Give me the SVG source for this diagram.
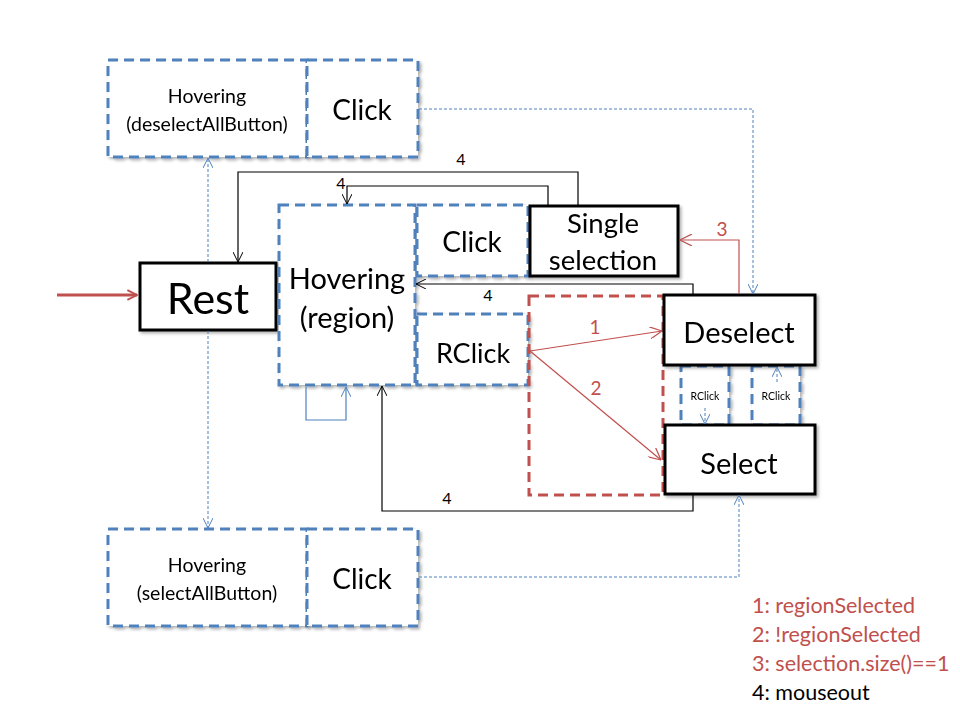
<svg xmlns="http://www.w3.org/2000/svg" width="960" height="720" viewBox="0 0 960 720">
<defs>
<style>
.t{font-family:Lato,"Open Sans","Liberation Sans",sans-serif;fill:#000;text-anchor:middle;dominant-baseline:central}
.bd{fill:#fff;stroke:#4F81BD;stroke-width:3;stroke-dasharray:10 6}
.rd{fill:none;stroke:#C0504D;stroke-width:3;stroke-dasharray:10 6}
.bk{fill:#fff;stroke:#000;stroke-width:3}
.c4{fill:none;stroke:#000;stroke-width:1.2}
.cr{fill:none;stroke:#C0504D;stroke-width:1.2}
.cb{fill:none;stroke:#4F81BD;stroke-width:1;stroke-dasharray:3 2}
.lr{font-family:Lato,"Open Sans","Liberation Sans",sans-serif;fill:#C0504D;font-size:21.5px}
.lk{font-family:Lato,"Open Sans","Liberation Sans",sans-serif;fill:#000;font-size:21.5px}
</style>
<filter id="sh" x="-10%" y="-10%" width="130%" height="130%">
<feDropShadow dx="2" dy="2" stdDeviation="1.5" flood-color="#000" flood-opacity="0.3"/>
</filter>
<marker id="ak" viewBox="0 0 10 10" refX="10" refY="5" markerWidth="10" markerHeight="10" markerUnits="userSpaceOnUse" orient="auto"><path d="M0,0 L10,5 L0,10" fill="none" stroke="#000" stroke-width="1"/></marker>
<marker id="ar" viewBox="0 0 10 10" refX="10" refY="5" markerWidth="12" markerHeight="12" markerUnits="userSpaceOnUse" orient="auto"><path d="M0,0 L10,5 L0,10" fill="none" stroke="#C0504D" stroke-width="1"/></marker>
<marker id="ab" viewBox="0 0 10 10" refX="10" refY="5" markerWidth="10" markerHeight="10" markerUnits="userSpaceOnUse" orient="auto"><path d="M0,0 L10,5 L0,10" fill="none" stroke="#4F81BD" stroke-width="1"/></marker>
<marker id="aR" viewBox="0 0 10 10" refX="9" refY="5" markerWidth="12" markerHeight="12" markerUnits="userSpaceOnUse" orient="auto"><path d="M1,1 L9,5 L1,9" fill="none" stroke="#C0504D" stroke-width="1.6"/></marker>
</defs>
<rect width="960" height="720" fill="#fff"/>

<g id="hover-deselect" filter="url(#sh)"><rect class="bd" x="108" y="60" width="199" height="97"/><text class="t" x="207" y="95" font-size="19.5">Hovering</text><text class="t" x="207" y="123" font-size="19.5">(deselectAllButton)</text></g>
<g id="click-deselect" filter="url(#sh)"><rect class="bd" x="307" y="60" width="111" height="97"/><text class="t" x="362" y="109" font-size="28">Click</text></g>
<g id="hover-select" filter="url(#sh)"><rect class="bd" x="108" y="529" width="199" height="97"/><text class="t" x="207" y="564" font-size="19.5">Hovering</text><text class="t" x="207" y="592" font-size="19.5">(selectAllButton)</text></g>
<g id="click-select" filter="url(#sh)"><rect class="bd" x="307" y="529" width="111" height="97"/><text class="t" x="362" y="578" font-size="28">Click</text></g>

<g id="rest" filter="url(#sh)"><rect class="bk" x="140" y="263" width="136" height="67"/><text class="t" x="208" y="297" font-size="43">Rest</text></g>
<g id="hover-region" filter="url(#sh)"><rect class="bd" x="279" y="205" width="136" height="180"/><text class="t" x="347" y="277" font-size="29">Hovering</text><text class="t" x="347" y="316" font-size="29">(region)</text></g>
<g id="click-region" filter="url(#sh)"><rect class="bd" x="417" y="205" width="111" height="71"/><text class="t" x="472" y="241" font-size="28">Click</text></g>
<g id="single" filter="url(#sh)"><rect class="bk" x="530" y="206" width="148" height="70"/><text class="t" x="603" y="222" font-size="27.5">Single</text><text class="t" x="603" y="259" font-size="27.5">selection</text></g>
<g id="rclick" filter="url(#sh)"><rect class="bd" x="417" y="314" width="111" height="71"/><text class="t" x="473" y="352" font-size="27">RClick</text></g>
<g id="decision"><rect class="rd" x="529" y="296" width="134" height="199"/></g>
<g id="rclick-a" filter="url(#sh)"><rect class="bd" x="681" y="366" width="48" height="59"/><text class="t" x="705" y="396" font-size="10.5">RClick</text></g>
<g id="rclick-b" filter="url(#sh)"><rect class="bd" x="752" y="366" width="48" height="59"/><text class="t" x="776" y="396" font-size="10.5">RClick</text></g>
<g id="deselect" filter="url(#sh)"><rect class="bk" x="664" y="295" width="151" height="70"/><text class="t" x="739" y="331" font-size="29">Deselect</text></g>
<g id="select" filter="url(#sh)"><rect class="bk" x="665" y="425" width="150" height="69"/><text class="t" x="739" y="462" font-size="29">Select</text></g>

<g id="connectors">
<line x1="57" y1="295" x2="137" y2="295" stroke="#C0504D" stroke-width="3" marker-end="url(#aR)"/>
<line class="cb" x1="208" y1="262" x2="208" y2="158" marker-end="url(#ab)"/>
<line class="cb" x1="208" y1="331" x2="208" y2="528" marker-end="url(#ab)"/>
<polyline class="cb" points="419,109 753,109 753,294" marker-end="url(#ab)"/>
<polyline class="cb" points="419,577 739,577 739,495" marker-end="url(#ab)"/>
<line class="cb" x1="705" y1="408" x2="705" y2="424" marker-end="url(#ab)"/>
<line class="cb" x1="777" y1="382" x2="777" y2="367" marker-end="url(#ab)"/>
<polyline class="c4" points="578,205 578,172 238,172 238,262" marker-end="url(#ak)"/>
<polyline class="c4" points="548,205 548,186 347,186 347,204" marker-end="url(#ak)"/>
<polyline class="c4" points="693,294 693,284 416,284" marker-end="url(#ak)"/>
<polyline class="c4" points="693,495 693,511 382,511 382,386" marker-end="url(#ak)"/>
<polyline points="306,387 306,420 346,420 346,387" fill="none" stroke="#4F81BD" stroke-width="1.2" marker-end="url(#ab)"/>
<line class="cr" x1="530" y1="351" x2="662" y2="331" marker-end="url(#ar)"/>
<line class="cr" x1="530" y1="351" x2="661" y2="460" marker-end="url(#ar)"/>
<polyline class="cr" points="739,294 739,240 680,240" marker-end="url(#ar)"/>
<text class="t" x="461" y="158" font-size="16">4</text>
<text class="t" x="341" y="182" font-size="16">4</text>
<text class="t" x="488" y="294" font-size="16">4</text>
<text class="t" x="447" y="497" font-size="16">4</text>
<text class="t" x="595" y="326" font-size="19" style="fill:#C0504D">1</text>
<text class="t" x="596" y="387" font-size="19" style="fill:#C0504D">2</text>
<text class="t" x="722" y="228" font-size="19" style="fill:#C0504D">3</text>
</g>

<g id="legend">
<text class="lr" x="752" y="613">1: regionSelected</text>
<text class="lr" x="752" y="642">2: !regionSelected</text>
<text class="lr" x="752" y="671">3: selection.size()==1</text>
<text class="lk" x="752" y="700">4: mouseout</text>
</g>
</svg>
